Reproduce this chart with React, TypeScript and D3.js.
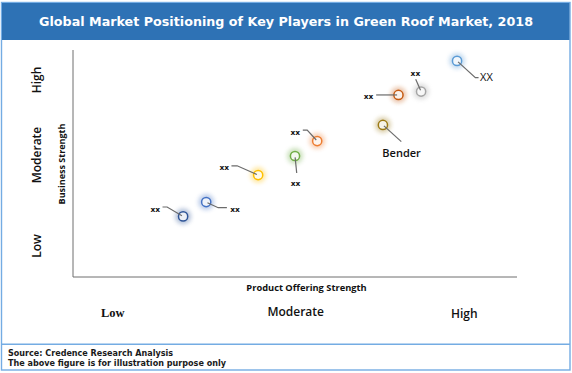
import React from "react";
import * as d3 from "d3";

// ---- data ----
const players = ["xx", "xx", "xx", "xx", "xx", "Bender", "xx", "xx", "XX"];
const productStrength = [24.8, 30.0, 41.7, 50.0, 55.0, 69.8, 73.3, 78.4, 86.5];
const businessStrength = [26.7, 33.0, 44.9, 53.3, 59.9, 67.0, 80.2, 81.7, 95.2];
const colors = ["#2f5597", "#4472c4", "#ffc000", "#70ad47", "#ed7d31", "#9c7a16", "#c55a11", "#a5a5a5", "#5b9bd5"];
const yTickLabels = ["Low", "Moderate", "High"];
const xTickLabels = ["Low", "Moderate", "High"];

// label layout (offsets from point, px): elbow, end, label pos, anchor, style
const labelLayout = [
  { elbow: [-16, -9.4], end: [-20.6, -9.4], text: [-23, -4.5], anchor: "end", big: false },
  { elbow: [12, 5.6], end: [20.7, 5.6], text: [24, 9.5], anchor: "start", big: false },
  { elbow: [-21, -9.3], end: [-26.7, -9.3], text: [-29, -5.5], anchor: "end", big: false },
  { elbow: [1.7, 17], end: [1.7, 17], text: [0.5, 29.5], anchor: "middle", big: false },
  { elbow: [-10, -11], end: [-14.4, -11], text: [-17, -6.5], anchor: "end", big: false },
  { elbow: [18.4, 16.7], end: [18.4, 16.7], text: [18.7, 32.5], anchor: "middle", big: true },
  { elbow: [-22.3, 0], end: [-22.3, 0], text: [-25, 4], anchor: "end", big: false },
  { elbow: [-5.4, -12.4], end: [-5.4, -12.4], text: [-5.7, -16], anchor: "middle", big: false },
  { elbow: [18.3, 16.7], end: [21.5, 16.7], text: [23, 20.5], anchor: "start", big: true },
];

const W = 572;
const H = 373;

export default function App() {
  const x = d3.scaleLinear().domain([0, 100]).range([73, 517]);
  const y = d3.scaleLinear().domain([0, 100]).range([277, 50]);
  const r = 4.6;

  return (
    <svg width={W} height={H} style={{ position: "absolute", left: 0, top: 0 }}>
      <defs>
        <filter id="glow" x="-100%" y="-100%" width="300%" height="300%">
          <feGaussianBlur stdDeviation="2.2" />
        </filter>
      </defs>
      <rect x={0} y={0} width={W} height={H} fill="#ffffff" />
      {/* outer frame */}
      <rect x={1.5} y={2.5} width={568.5} height={367.5} fill="none" stroke="#74ace3" strokeWidth={1.4} />
      {/* title bar */}
      <rect x={2} y={3} width={567.5} height={37} fill="#2e72b5" />
      <text
        x={286}
        y={26}
        textAnchor="middle"
        fill="#ffffff"
        fontFamily="DejaVu Sans, Verdana, sans-serif"
        fontWeight="bold"
        fontSize={13}
        textLength={494}
        lengthAdjust="spacingAndGlyphs"
      >
        Global Market Positioning of Key Players in Green Roof Market, 2018
      </text>
      {/* separator */}
      <line x1={1.5} x2={570} y1={344.3} y2={344.3} stroke="#74ace3" strokeWidth={1.4} />
      <text x={8} y={356} fontFamily="DejaVu Sans, Verdana, sans-serif" fontWeight="bold" fontSize={8}
        textLength={165} lengthAdjust="spacingAndGlyphs" fill="#1a1a1a">
        Source: Credence Research Analysis
      </text>
      <text x={8} y={366} fontFamily="DejaVu Sans, Verdana, sans-serif" fontWeight="bold" fontSize={8}
        textLength={218} lengthAdjust="spacingAndGlyphs" fill="#1a1a1a">
        The above figure is for illustration purpose only
      </text>

      {/* axes */}
      <path d={`M${x(0)},${y(100)}V${y(0)}H${x(100)}`} fill="none" stroke="#6e6e6e" strokeWidth={1} />

      {/* axis titles */}
      <text
        x={306.5}
        y={291}
        textAnchor="middle"
        fontFamily="Open Sans, Noto Sans, sans-serif"
        fontWeight="bold"
        fontSize={9.3}
        fill="#111"
      >
        Product Offering Strength
      </text>
      <text
        transform={`translate(65,164) rotate(-90)`}
        textAnchor="middle"
        fontFamily="Open Sans, Noto Sans, sans-serif"
        fontWeight="bold"
        fontSize={9}
        fill="#111"
      >
        Business Strength
      </text>

      {/* y tick labels */}
      {yTickLabels.map((t, i) => {
        const cy = [246, 155, 80][i];
        return (
          <text
            key={"y" + i}
            transform={`translate(41,${cy}) rotate(-90)`}
            textAnchor="middle"
            fontFamily="Open Sans, Noto Sans, sans-serif"
            fontWeight={600}
            fontSize={12}
            fill="#111"
          >
            {t}
          </text>
        );
      })}
      {/* x tick labels */}
      {xTickLabels.map((t, i) => {
        const cx = [112.7, 295.7, 464.3][i];
        const cy = [317, 316, 318][i];
        return (
          <text
            key={"x" + i}
            x={cx}
            y={cy}
            textAnchor="middle"
            fontFamily={i === 0 ? "Liberation Serif, serif" : "Open Sans, Noto Sans, sans-serif"}
            fontWeight={i === 0 ? "bold" : 600}
            fontSize={i === 0 ? 12.5 : 12}
            fill="#111"
          >
            {t}
          </text>
        );
      })}

      {/* points */}
      {players.map((name, i) => {
        const px = x(productStrength[i]);
        const py = y(businessStrength[i]);
        const L = labelLayout[i];
        const ex = px + L.elbow[0];
        const ey = py + L.elbow[1];
        const dx = ex - px;
        const dy = ey - py;
        const len = Math.hypot(dx, dy) || 1;
        const sx = px + (dx / len) * r * 0.3;
        const sy = py + (dy / len) * r * 0.3;
        return (
          <g key={i}>
            <circle cx={px} cy={py} r={8} fill={colors[i]} opacity={0.35} filter="url(#glow)" />
            <circle cx={px} cy={py} r={r} fill="#ffffff" fillOpacity={0.75} stroke={colors[i]} strokeWidth={1.5} />
            <path
              d={`M${sx},${sy}L${ex},${ey}L${px + L.end[0]},${py + L.end[1]}`}
              fill="none"
              stroke="#6b6b6b"
              strokeWidth={1.2}
            />
            <text
              x={px + L.text[0]}
              y={py + L.text[1]}
              textAnchor={L.anchor as any}
              fontFamily={L.big ? "Open Sans, Noto Sans, sans-serif" : "DejaVu Sans, Verdana, sans-serif"}
              fontWeight={name === "Bender" ? 600 : L.big ? 400 : "bold"}
              fontSize={L.big ? 11 : 7.5}
              fill="#111"
            >
              {name}
            </text>
          </g>
        );
      })}
    </svg>
  );
}
